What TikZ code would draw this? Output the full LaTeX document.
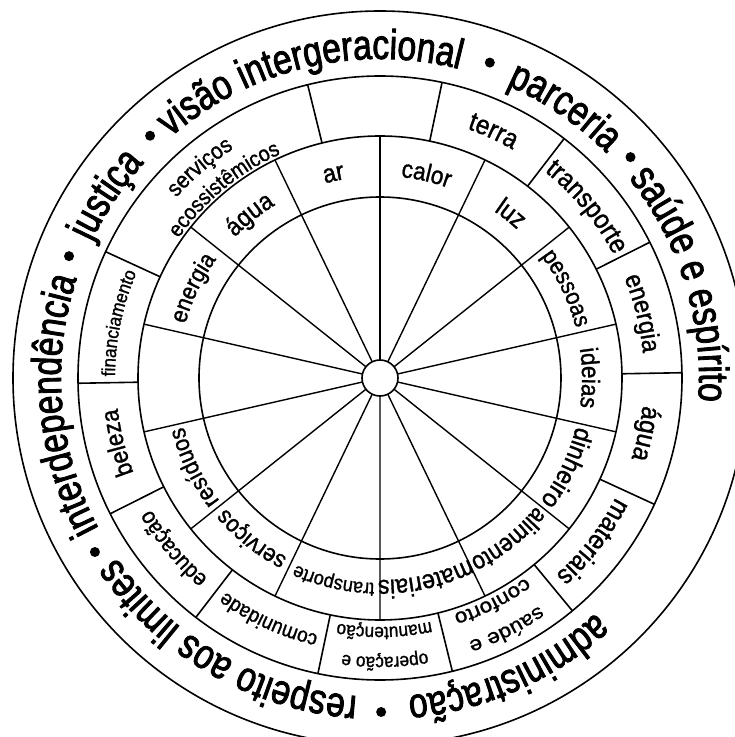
\documentclass[tikz,border=0pt]{standalone}
\usepackage{fontspec}
\usetikzlibrary{decorations.text}
\newfontfamily\ringfont[FakeStretch=0.8,FakeBold=2]{Liberation Sans}
\newfontfamily\labfont[FakeStretch=0.9,FakeBold=1.2]{Liberation Sans}
\newfontfamily\labwide[FakeStretch=1.12,FakeBold=1.2]{Liberation Sans}
\newcommand\fouter{\ringfont\fontsize{42}{50}\selectfont}
\newcommand\flab[1]{\labfont\fontsize{#1}{#1}\selectfont}
\newcommand\fwide[1]{\labwide\fontsize{#1}{#1}\selectfont}
\newcommand\ringtext[4]{%
  \path[decorate,decoration={text along path,text align=center,text={|#3|#4}}]
    ({#2+60}:#1) arc[start angle={#2+60},end angle={#2-60},radius=#1];}
\begin{document}
\begin{tikzpicture}[x=1pt,y=1pt,line width=1.6pt,
  ringline/.style={line width=1.6pt},
  spoke/.style={line width=1.4pt}]
\useasboundingbox (-380,-359) rectangle (355,378);
\fill[white] (-380,-359) rectangle (355,378);
\clip (-380,-359) rectangle (355,378);
% rings
\draw[ringline] (0,0) circle[radius=367];
\draw[ringline] (0,0) circle[radius=302];
\draw[ringline] (0,0) circle[radius=242];
\draw[ringline] (0,0) circle[radius=181];
% spokes
\foreach \k in {0,...,13} \draw[spoke] (0,0) -- ({90-25.714*\k}:242);
% outer cell dividers
\foreach \k in {0,1,2,3,4,6,7,8,9,10,11,12,13}
  \draw[ringline] ({1+25.714*\k}:242) -- ({1+25.714*\k}:302);
% hub
\filldraw[fill=white,ringline] (0,0) circle[radius=18];
% inner ring labels
\ringtext{202}{77.14}{\flab{25}}{calor}
\ringtext{202}{51.43}{\flab{26}}{luz}
\ringtext{202}{25.71}{\flab{24}}{pessoas}
\ringtext{202}{0}{\flab{25}}{ideias}
\ringtext{202}{-25.71}{\flab{26}}{dinheiro}
\ringtext{202}{-51.43}{\flab{25}}{alimento}
\ringtext{202}{-77.14}{\flab{26}}{materiais}
\ringtext{205}{-102.86}{\flab{20}}{transporte}
\ringtext{202}{-128.57}{\flab{24}}{serviços}
\ringtext{202}{-154.29}{\flab{24}}{resíduos}
\ringtext{202}{154.29}{\flab{24}}{energia}
\ringtext{202}{128.57}{\flab{26}}{água}
\ringtext{202}{102.86}{\flab{26}}{ar}
% outer cell labels
\ringtext{264}{65.29}{\flab{27}}{terra}
\ringtext{264}{39.57}{\flab{27}}{transporte}
\ringtext{264}{13.86}{\flab{26}}{energia}
\ringtext{264}{-11.86}{\flab{27}}{água}
\ringtext{264}{-37.57}{\flab{27}}{materiais}
\ringtext{278}{-63.29}{\fwide{20}}{saúde e}
\ringtext{247}{-63.29}{\fwide{20}}{conforto}
\ringtext{279}{-89}{\flab{19}}{operação e}
\ringtext{249}{-89}{\flab{19}}{manutenção}
\ringtext{264}{-114.71}{\flab{21}}{comunidade}
\ringtext{264}{-140.43}{\flab{23}}{educação}
\ringtext{264}{-166.14}{\flab{25}}{beleza}
\ringtext{265}{168.14}{\flab{19}}{financiamento}
\ringtext{272}{130.5}{\flab{23}}{serviços}
\ringtext{245}{129.57}{\flab{22}}{ecossistêmicos}
% outer ring phrases
\ringtext{319}{185}{\fouter}{interdependência}
\ringtext{319}{146.2}{\fouter}{justiça}
\ringtext{319}{103.3}{\fouter}{visão intergeracional}
\ringtext{319}{55.7}{\fouter}{parceria}
\ringtext{319}{17.3}{\fouter}{saúde e espírito}
\ringtext{319}{-66.2}{\fouter}{administração}
\ringtext{319}{-119.9}{\fouter}{respeito aos limites}
% bullets
\foreach \a in {211.4,158.6,133.5,70.8,41.4,-89.8}
  \fill ({\a}:334) circle[radius=5];
\end{tikzpicture}
\end{document}
